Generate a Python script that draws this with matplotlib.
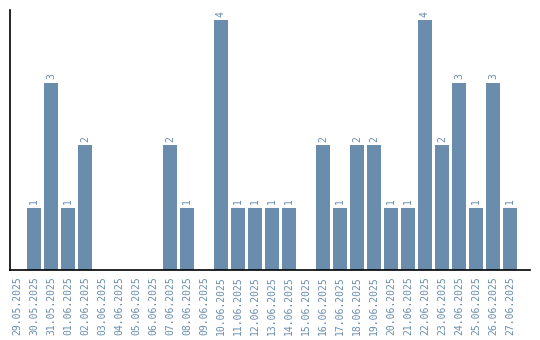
import matplotlib
matplotlib.use("Agg")
import matplotlib.pyplot as plt
import numpy as np

dates = ["29.05.2025", "30.05.2025", "31.05.2025", "01.06.2025", "02.06.2025",
         "03.06.2025", "04.06.2025", "05.06.2025", "06.06.2025", "07.06.2025",
         "08.06.2025", "09.06.2025", "10.06.2025", "11.06.2025", "12.06.2025",
         "13.06.2025", "14.06.2025", "15.06.2025", "16.06.2025", "17.06.2025",
         "18.06.2025", "19.06.2025", "20.06.2025", "21.06.2025", "22.06.2025",
         "23.06.2025", "24.06.2025", "25.06.2025", "26.06.2025", "27.06.2025"]
values = [0, 1, 3, 1, 2, 0, 0, 0, 0, 2, 1, 0, 4, 1, 1, 1, 1, 0, 2, 1,
          2, 2, 1, 1, 4, 2, 3, 1, 3, 1]

color = "#6a8cad"
fig = plt.figure(figsize=(5.4, 3.4), dpi=100)
ax = fig.add_axes([10/540, 70/340, 520/540, 260/340])
x = np.arange(len(dates))
ax.bar(x, values, width=14/17, color=color)
ax.set_xlim(-7/17, 30.18)
ax.set_ylim(0, 4.16)
for xi, v in zip(x, values):
    if v > 0:
        ax.text(xi, v + 0.05, str(v), rotation=90, ha="center", va="bottom",
                color=color, fontsize=7, family="DejaVu Sans Mono")
ax.set_xticks(x)
ax.set_xticklabels(dates, rotation=90, color=color, fontsize=7,
                   family="DejaVu Sans Mono")
ax.tick_params(axis="x", length=0, pad=4.5)
ax.set_yticks([])
for s in ["top", "right"]:
    ax.spines[s].set_visible(False)
for s in ["left", "bottom"]:
    ax.spines[s].set_color("black")
    ax.spines[s].set_linewidth(1.2)
fig.savefig("out.png", dpi=100)
